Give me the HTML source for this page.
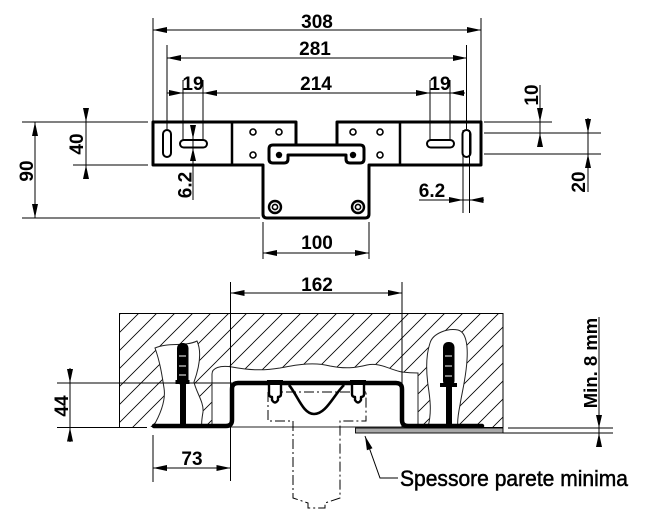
<!DOCTYPE html>
<html><head><meta charset="utf-8"><style>
html,body{margin:0;padding:0;background:#fff;}
svg{display:block;}
text{font-family:"Liberation Sans",Arial,sans-serif;fill:#000;}
.d{font-weight:bold;font-size:19px;text-anchor:middle;}
</style></head><body>
<svg width="649" height="524" viewBox="0 0 649 524" xmlns="http://www.w3.org/2000/svg">
<defs>
<pattern id="h" width="18" height="18" patternUnits="userSpaceOnUse" x="1" y="1">
<path d="M-4,4 L4,-4 M0,18 L18,0 M14,22 L22,14" stroke="#000" stroke-width="0.8"/>
</pattern>
</defs>
<rect width="649" height="524" fill="#fff"/>

<!-- ============ TOP VIEW ============ -->
<g stroke="#000" stroke-width="1" fill="none">
<line x1="153" y1="18" x2="153" y2="122"/>
<line x1="481" y1="18" x2="481" y2="122"/>
<line x1="167" y1="45" x2="167" y2="129"/>
<line x1="466.5" y1="45" x2="466.5" y2="129"/>
<line x1="183" y1="80" x2="183" y2="141"/>
<line x1="203" y1="80" x2="203" y2="141"/>
<line x1="430" y1="80" x2="430" y2="141"/>
<line x1="450" y1="80" x2="450" y2="141"/>
<line x1="153" y1="30" x2="481" y2="30"/>
<line x1="167" y1="58" x2="467" y2="58"/>
<line x1="167" y1="93" x2="465" y2="93"/>
<line x1="22" y1="122" x2="148" y2="122"/>
<line x1="73" y1="165" x2="148" y2="165"/>
<line x1="22" y1="218" x2="260" y2="218"/>
<line x1="86" y1="108" x2="86" y2="178"/>
<line x1="35" y1="122" x2="35" y2="218"/>
<line x1="193" y1="125" x2="193" y2="200"/>
<line x1="484" y1="122" x2="552" y2="122"/>
<line x1="484" y1="133" x2="601" y2="133"/>
<line x1="484" y1="154" x2="601" y2="154"/>
<line x1="540" y1="85" x2="540" y2="147"/>
<line x1="588" y1="118" x2="588" y2="192"/>
<line x1="463" y1="130" x2="463" y2="213"/>
<line x1="469.5" y1="130" x2="469.5" y2="213"/>
<line x1="419" y1="200" x2="484" y2="200"/>
<line x1="263" y1="222" x2="263" y2="259"/>
<line x1="369" y1="222" x2="369" y2="259"/>
<line x1="263" y1="253" x2="369" y2="253"/>
</g>

<!-- plate -->
<g stroke="#000" fill="none" stroke-width="3" stroke-linejoin="round">
<path d="M296,145 V122 H153 V165 H263 V214 Q263,218 267,218 H365 Q369,218 369,214 V165 H481 V122 H337 V145"/>
<line x1="232" y1="122" x2="232" y2="165" stroke-width="2.5"/>
<line x1="400" y1="122" x2="400" y2="165" stroke-width="2.5"/>
<path fill="#fff" d="M273,145 H360 Q364,145 364,149 V159 Q364,163 360,163 H350 Q346,163 346,159 V155 H288 V159 Q288,163 284,163 H273 Q269,163 269,159 V149 Q269,145 273,145 Z"/>
</g>
<g stroke="#000" fill="none" stroke-width="1.6">
<circle cx="253" cy="132" r="3"/><circle cx="279" cy="132" r="3"/><circle cx="253" cy="155" r="3"/>
<circle cx="353" cy="132" r="3"/><circle cx="380" cy="132" r="3"/><circle cx="380" cy="155" r="3"/>
</g>
<circle cx="279" cy="155" r="3.2" fill="#000"/>
<circle cx="353" cy="155" r="3.2" fill="#000"/>
<g stroke="#000" fill="none">
<circle cx="275" cy="207" r="6" stroke-width="2.4"/><circle cx="275" cy="207" r="2.6" stroke-width="1.6"/>
<circle cx="358" cy="207" r="6" stroke-width="2.4"/><circle cx="358" cy="207" r="2.6" stroke-width="1.6"/>
<rect x="163" y="130" width="8" height="27" rx="4" stroke-width="2"/>
<rect x="180" y="140" width="27" height="7.5" rx="3.75" stroke-width="2"/>
<rect x="427" y="140" width="27" height="7.5" rx="3.75" stroke-width="2"/>
<rect x="462.5" y="130" width="8" height="27" rx="4" stroke-width="2"/>
</g>

<g fill="#000">
<polygon points="153,30 167,27 167,33"/>
<polygon points="481,30 467,27 467,33"/>
<polygon points="167,58 181,55 181,61"/>
<polygon points="467,58 453,55 453,61"/>
<polygon points="183,93 169,90 169,96"/>
<polygon points="203,93 217,90 217,96"/>
<polygon points="430,93 416,90 416,96"/>
<polygon points="450,93 464,90 464,96"/>
<polygon points="86,122 83,108 89,108"/>
<polygon points="86,165 83,179 89,179"/>
<polygon points="35,122 32,136 38,136"/>
<polygon points="35,218 32,204 38,204"/>
<polygon points="193,139 190,125 196,125"/>
<polygon points="193,148 190,161 196,161"/>
<polygon points="540,122 537,108 543,108"/>
<polygon points="540,133 537,147 543,147"/>
<polygon points="588,133 585,119 591,119"/>
<polygon points="588,154 585,168 591,168"/>
<polygon points="463,200 449,197 449,203"/>
<polygon points="469.5,200 483.5,197 483.5,203"/>
<polygon points="263,253 277,250 277,256"/>
<polygon points="369,253 355,250 355,256"/>
</g>

<text class="d" x="317" y="28">308</text>
<text class="d" x="315" y="55">281</text>
<text class="d" x="316" y="90">214</text>
<text class="d" x="193" y="90">19</text>
<text class="d" x="440" y="90">19</text>
<text class="d" x="432" y="197">6.2</text>
<text class="d" x="317" y="249">100</text>
<text class="d" transform="translate(83,144) rotate(-90)">40</text>
<text class="d" transform="translate(33,171) rotate(-90)">90</text>
<text class="d" transform="translate(191.5,185) rotate(-90)">6.2</text>
<text class="d" transform="translate(538,95) rotate(-90)">10</text>
<text class="d" transform="translate(585,182) rotate(-90)">20</text>

<!-- ============ SECTION VIEW ============ -->
<rect x="119.5" y="313.5" width="383.5" height="113.5" fill="url(#h)"/>
<g fill="#fff" stroke="#222" stroke-width="1">
<path d="M153,427 C160,415 166,400 164,388 C162,375 160,362 155,348 C168,342 185,347 197,341 C202,352 199,368 194,382 C196,392 204,402 203,412 C202,418 201,423 202,427 Z"/>
<path d="M212,427 V374 C212,368 220,365 232,367 C248,370 262,371 280,368 C300,364 315,362 330,366 C345,369 355,368 367,365 C380,362 390,370 402,372 C410,373 415,373 418,373 V427 Z"/>
<path d="M428,427 C432,412 430,398 428,385 C426,370 426,355 430,343 C433,333 448,328 458,330 C466,332 468,345 467,360 C466,378 462,392 460,405 C458,415 457,422 458,427 Z"/>
</g>
<g stroke="#000" stroke-width="1" fill="none">
<line x1="119.5" y1="313" x2="119.5" y2="427.5"/>
<line x1="119" y1="313.5" x2="503.5" y2="313.5"/>
<line x1="503" y1="313" x2="503" y2="427.5"/>
<line x1="57" y1="427.5" x2="147" y2="427.5"/>
<line x1="482" y1="427.5" x2="503" y2="427.5"/>
<line x1="57" y1="383" x2="232" y2="383"/>
<line x1="70" y1="368" x2="70" y2="442"/>
<line x1="230.5" y1="282" x2="230.5" y2="481"/>
<line x1="402" y1="282" x2="402" y2="427"/>
<line x1="230" y1="293" x2="402" y2="293"/>
<line x1="153" y1="435" x2="153" y2="482"/>
<line x1="153" y1="468" x2="230" y2="468"/>
<line x1="508" y1="428" x2="613" y2="428"/>
<line x1="503" y1="433" x2="613" y2="433"/>
<line x1="599" y1="317" x2="599" y2="447"/>
<polyline points="365,436 380,478 398,478"/>
</g>

<path d="M268,392 H366 M268,392 V421 H293 V498 L308,503 V508 H325 V503 L340,498 V421 H366 V392" fill="none" stroke="#000" stroke-width="1" stroke-dasharray="10,3,2,3"/>

<rect x="355.5" y="428" width="147.5" height="5" fill="#a8a8a8" stroke="#000" stroke-width="0.9"/>

<path d="M154,426 L226,426 Q232,426 232,420 L232,389 Q232,383 238,383 L396,383 Q402,383 402,389 L402,420 Q402,426 408,426 L482,426" fill="none" stroke="#000" stroke-width="4.5" stroke-linecap="round"/>

<g fill="#000">
<rect x="177" y="343" width="11.5" height="42" rx="5"/>
<rect x="175.5" y="380" width="14" height="4"/>
<rect x="180" y="384" width="6" height="43"/>
<rect x="443" y="342" width="11.5" height="44" rx="5"/>
<rect x="440" y="383" width="17" height="4"/>
<rect x="446" y="386" width="6" height="41"/>
</g>
<g stroke="#fff" stroke-width="1">
<line x1="179" y1="356" x2="186" y2="356"/><line x1="179" y1="366" x2="186" y2="366"/><line x1="179" y1="375" x2="186" y2="375"/>
<line x1="445" y1="356" x2="452" y2="356"/><line x1="445" y1="366" x2="452" y2="366"/><line x1="445" y1="376" x2="452" y2="376"/>
</g>

<g fill="#fff" stroke="#000" stroke-width="2.4" stroke-linejoin="round">
<path d="M269,384 L269,394 Q269,397 272,397 L272,400 Q275,405 278,400 L278,397 Q281,397 281,394 L281,384"/>
<path d="M352,384 L352,394 Q352,397 355,397 L355,400 Q358,405 361,400 L361,397 Q364,397 364,394 L364,384"/>
</g>
<rect x="267" y="380" width="16" height="5" fill="#000"/>
<rect x="350" y="380" width="16" height="5" fill="#000"/>
<path d="M289,385 C298,396 303,414 314,414 C326,414 333,396 344,385" fill="none" stroke="#000" stroke-width="2.6"/>

<g fill="#000">
<polygon points="230.5,293 244.5,290 244.5,296"/>
<polygon points="402,293 388,290 388,296"/>
<polygon points="70,383 67,369 73,369"/>
<polygon points="70,427.5 67,441.5 73,441.5"/>
<polygon points="153,468 167,465 167,471"/>
<polygon points="230.5,468 216.5,465 216.5,471"/>
<polygon points="599,428 596,415 602,415"/>
<polygon points="599,433 596,447 602,447"/>
<polygon points="365,436 372.5,448.2 366.9,450.2"/>
</g>

<text class="d" x="317" y="291">162</text>
<text class="d" x="192" y="465">73</text>
<text class="d" transform="translate(68,406) rotate(-90)">44</text>
<text class="d" style="font-size:18.5px" transform="translate(597,363) rotate(-90)">Min. 8 mm</text>
<text x="400" y="486" style="font-size:22px" stroke="#000" stroke-width="0.5" textLength="228" lengthAdjust="spacingAndGlyphs">Spessore parete minima</text>
</svg>
</body></html>
